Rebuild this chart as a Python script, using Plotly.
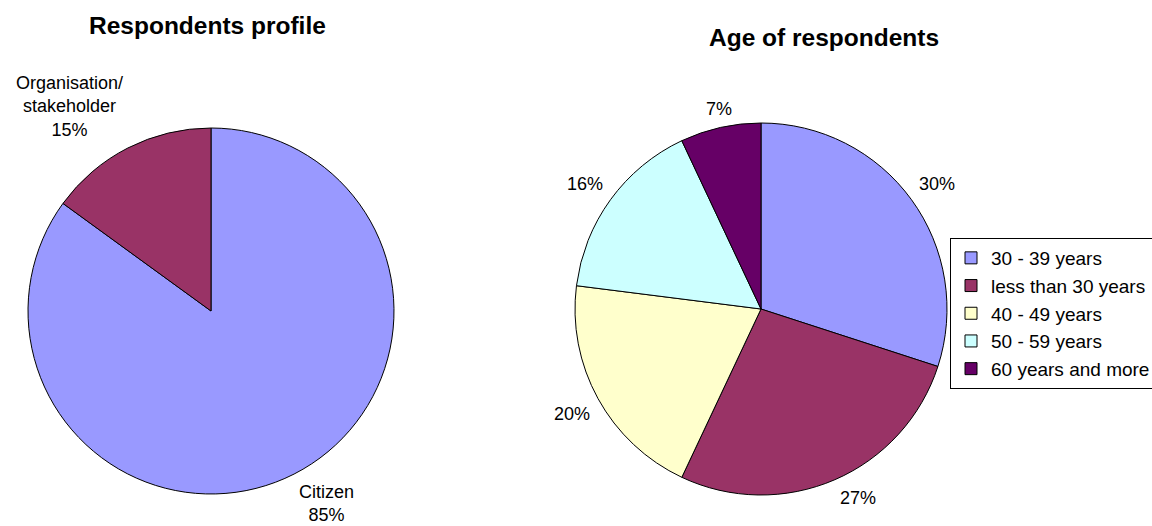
import math
import plotly.graph_objects as go

# ---- data ----
profile_labels = ["Citizen", "Organisation/<br>stakeholder"]
profile_values = [85, 15]
profile_colors = ["#9999FF", "#993366"]

age_labels = ["30 - 39 years", "less than 30 years", "40 - 49 years", "50 - 59 years", "60 years and more"]
age_values = [30, 27, 20, 16, 7]
age_colors = ["#9999FF", "#993366", "#FFFFCC", "#CCFFFF", "#660066"]

title_left = "Respondents profile"
title_right = "Age of respondents"

# ---- layout constants (pixels) ----
W, H = 1152, 526
FONT = "Liberation Sans, Arial, sans-serif"
left_c, left_r = (211, 311), 183
right_c, right_r = (761, 309), 186


def px(x):
    return x / W


def py(y):
    return 1 - y / H


def domain(c, r):
    return dict(x=[px(c[0] - r), px(c[0] + r)], y=[py(c[1] + r), py(c[1] - r)])


fig = go.Figure()
fig.add_trace(go.Pie(
    labels=profile_labels, values=profile_values, sort=False, direction="clockwise",
    rotation=0, marker=dict(colors=profile_colors, line=dict(color="black", width=1)),
    textinfo="none", hoverinfo="label+percent", showlegend=False,
    domain=domain(left_c, left_r),
))
fig.add_trace(go.Pie(
    labels=age_labels, values=age_values, sort=False, direction="clockwise",
    rotation=0, marker=dict(colors=age_colors, line=dict(color="black", width=1)),
    textinfo="none", hoverinfo="label+percent", showlegend=True,
    domain=domain(right_c, right_r),
))


def label_annotations(values, texts, c, r, gap):
    total = sum(values)
    anns = []
    cum = 0
    for v, t in zip(values, texts):
        mid = (cum + v / 2) / total * 2 * math.pi
        cum += v
        sx, sy = math.sin(mid), -math.cos(mid)
        x = c[0] + (r + gap) * sx
        y = c[1] + (r + gap) * sy
        xanchor = "left" if sx > 0.3 else ("right" if sx < -0.3 else "center")
        yanchor = "bottom" if sy < -0.3 else ("top" if sy > 0.3 else "middle")
        anns.append(dict(
            x=px(x), y=py(y), xref="paper", yref="paper", text=t, showarrow=False,
            xanchor=xanchor, yanchor=yanchor, align="center",
            font=dict(family=FONT, size=18, color="black"),
        ))
    return anns


annotations = []
annotations += label_annotations(
    profile_values,
    [f"{l}<br>{round(v / sum(profile_values) * 100)}%" for l, v in zip(profile_labels, profile_values)],
    left_c, left_r, 7)
annotations += label_annotations(
    age_values,
    [f"{round(v / sum(age_values) * 100)}%" for v in age_values],
    right_c, right_r, 7)

annotations.append(dict(x=px(207), y=py(25), xref="paper", yref="paper", text=f"<b>{title_left}</b>",
                        showarrow=False, xanchor="center", yanchor="middle",
                        font=dict(family=FONT, size=24.5, color="black")))
annotations.append(dict(x=px(824), y=py(38), xref="paper", yref="paper", text=f"<b>{title_right}</b>",
                        showarrow=False, xanchor="center", yanchor="middle",
                        font=dict(family=FONT, size=24.5, color="black")))

fig.update_layout(
    width=W, height=H, autosize=False,
    margin=dict(l=0, r=0, t=0, b=0, autoexpand=False),
    paper_bgcolor="white", plot_bgcolor="white",
    font=dict(family=FONT, size=18, color="black"),
    annotations=annotations,
    legend=dict(
        x=px(950), y=py(238), xanchor="left", yanchor="top",
        bordercolor="black", borderwidth=1, bgcolor="rgba(255,255,255,0)",
        font=dict(family=FONT, size=19, color="black"),
        traceorder="normal",
    ),
)

fig.write_html("out.html", include_plotlyjs=True, config={"displayModeBar": False},
               post_script="document.body.style.margin='0';document.body.style.overflow='hidden';")
